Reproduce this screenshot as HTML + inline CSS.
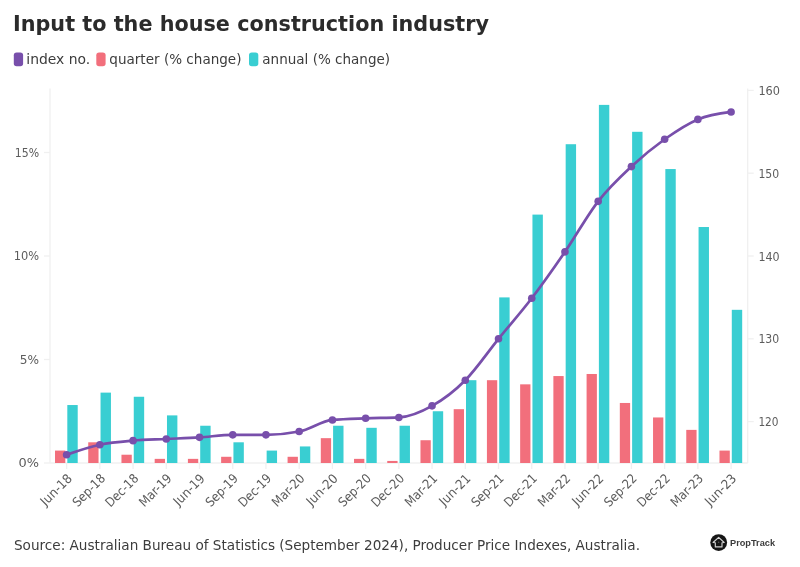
<!DOCTYPE html>
<html lang="en"><head><meta charset="utf-8"><title>Input to the house construction industry</title>
<style>html,body{margin:0;padding:0;background:#fff}body{width:800px;height:567px;overflow:hidden}svg{display:block}text{font-family:"DejaVu Sans", "Liberation Sans", sans-serif}</style></head><body>
<svg width="800" height="567" viewBox="0 0 800 567">
<rect width="800" height="567" fill="#ffffff"/>
<text x="13" y="31.4" font-size="20.7" font-weight="700" fill="#2b2b2b" textLength="476" lengthAdjust="spacingAndGlyphs">Input to the house construction industry</text>
<rect x="13.8" y="52.5" width="9.3" height="13.8" rx="2.8" fill="#784fab"/>
<text x="26.3" y="64.3" font-size="13.3" fill="#3c3c3c" textLength="64" lengthAdjust="spacingAndGlyphs">index no.</text>
<rect x="96.3" y="52.5" width="9.3" height="13.8" rx="2.8" fill="#f26f7c"/>
<text x="109.3" y="64.3" font-size="13.3" fill="#3c3c3c" textLength="132.2" lengthAdjust="spacingAndGlyphs">quarter (% change)</text>
<rect x="249" y="52.5" width="9.3" height="13.8" rx="2.8" fill="#39ced2"/>
<text x="262.3" y="64.3" font-size="13.3" fill="#3c3c3c" textLength="127.8" lengthAdjust="spacingAndGlyphs">annual (% change)</text>
<g stroke="#f0f0f0" stroke-width="1.3" fill="none">
<line x1="50" y1="88.5" x2="50" y2="463"/>
<line x1="747.7" y1="88.5" x2="747.7" y2="463"/>
<line x1="50" y1="463" x2="747.7" y2="463"/>
<line x1="44" y1="463" x2="50" y2="463"/>
<line x1="44" y1="359.5" x2="50" y2="359.5"/>
<line x1="44" y1="256" x2="50" y2="256"/>
<line x1="44" y1="152.5" x2="50" y2="152.5"/>
<line x1="747.7" y1="421.6" x2="753.7" y2="421.6"/>
<line x1="747.7" y1="338.8" x2="753.7" y2="338.8"/>
<line x1="747.7" y1="256" x2="753.7" y2="256"/>
<line x1="747.7" y1="173.2" x2="753.7" y2="173.2"/>
<line x1="747.7" y1="90.4" x2="753.7" y2="90.4"/>
<line x1="66.61" y1="463" x2="66.61" y2="469"/>
<line x1="99.84" y1="463" x2="99.84" y2="469"/>
<line x1="133.06" y1="463" x2="133.06" y2="469"/>
<line x1="166.28" y1="463" x2="166.28" y2="469"/>
<line x1="199.51" y1="463" x2="199.51" y2="469"/>
<line x1="232.73" y1="463" x2="232.73" y2="469"/>
<line x1="265.95" y1="463" x2="265.95" y2="469"/>
<line x1="299.18" y1="463" x2="299.18" y2="469"/>
<line x1="332.4" y1="463" x2="332.4" y2="469"/>
<line x1="365.63" y1="463" x2="365.63" y2="469"/>
<line x1="398.85" y1="463" x2="398.85" y2="469"/>
<line x1="432.07" y1="463" x2="432.07" y2="469"/>
<line x1="465.3" y1="463" x2="465.3" y2="469"/>
<line x1="498.52" y1="463" x2="498.52" y2="469"/>
<line x1="531.75" y1="463" x2="531.75" y2="469"/>
<line x1="564.97" y1="463" x2="564.97" y2="469"/>
<line x1="598.19" y1="463" x2="598.19" y2="469"/>
<line x1="631.42" y1="463" x2="631.42" y2="469"/>
<line x1="664.64" y1="463" x2="664.64" y2="469"/>
<line x1="697.86" y1="463" x2="697.86" y2="469"/>
<line x1="731.09" y1="463" x2="731.09" y2="469"/>
</g>
<g font-size="12.8" fill="#5c5c5c">
<text x="18.6" y="467.1" textLength="20.5" lengthAdjust="spacingAndGlyphs">0%</text>
<text x="19.8" y="363.6" textLength="19.3" lengthAdjust="spacingAndGlyphs">5%</text>
<text x="13.8" y="260.1" textLength="25.3" lengthAdjust="spacingAndGlyphs">10%</text>
<text x="14.7" y="156.6" textLength="24.4" lengthAdjust="spacingAndGlyphs">15%</text>
<text x="758.4" y="426.1" textLength="20.2" lengthAdjust="spacingAndGlyphs">120</text>
<text x="758.4" y="343.3" textLength="20.8" lengthAdjust="spacingAndGlyphs">130</text>
<text x="758.4" y="260.5" textLength="21.2" lengthAdjust="spacingAndGlyphs">140</text>
<text x="758.4" y="177.7" textLength="20.8" lengthAdjust="spacingAndGlyphs">150</text>
<text x="758.4" y="94.9" textLength="21.6" lengthAdjust="spacingAndGlyphs">160</text>
</g>
<g fill="#f26f7c">
<rect x="55.01" y="450.58" width="10.3" height="12.42"/>
<rect x="88.24" y="442.3" width="10.3" height="20.7"/>
<rect x="121.46" y="454.72" width="10.3" height="8.28"/>
<rect x="154.68" y="458.86" width="10.3" height="4.14"/>
<rect x="187.91" y="458.86" width="10.3" height="4.14"/>
<rect x="221.13" y="456.79" width="10.3" height="6.21"/>
<rect x="287.58" y="456.79" width="10.3" height="6.21"/>
<rect x="320.8" y="438.16" width="10.3" height="24.84"/>
<rect x="354.03" y="458.86" width="10.3" height="4.14"/>
<rect x="387.25" y="460.93" width="10.3" height="2.07"/>
<rect x="420.47" y="440.23" width="10.3" height="22.77"/>
<rect x="453.7" y="409.18" width="10.3" height="53.82"/>
<rect x="486.92" y="380.2" width="10.3" height="82.8"/>
<rect x="520.15" y="384.34" width="10.3" height="78.66"/>
<rect x="553.37" y="376.06" width="10.3" height="86.94"/>
<rect x="586.59" y="373.99" width="10.3" height="89.01"/>
<rect x="619.82" y="402.97" width="10.3" height="60.03"/>
<rect x="653.04" y="417.46" width="10.3" height="45.54"/>
<rect x="686.26" y="429.88" width="10.3" height="33.12"/>
<rect x="719.49" y="450.58" width="10.3" height="12.42"/>
</g>
<g fill="#39ced2">
<rect x="67.31" y="405.04" width="10.4" height="57.96"/>
<rect x="100.54" y="392.62" width="10.4" height="70.38"/>
<rect x="133.76" y="396.76" width="10.4" height="66.24"/>
<rect x="166.98" y="415.39" width="10.4" height="47.61"/>
<rect x="200.21" y="425.74" width="10.4" height="37.26"/>
<rect x="233.43" y="442.3" width="10.4" height="20.7"/>
<rect x="266.65" y="450.58" width="10.4" height="12.42"/>
<rect x="299.88" y="446.44" width="10.4" height="16.56"/>
<rect x="333.1" y="425.74" width="10.4" height="37.26"/>
<rect x="366.33" y="427.81" width="10.4" height="35.19"/>
<rect x="399.55" y="425.74" width="10.4" height="37.26"/>
<rect x="432.77" y="411.25" width="10.4" height="51.75"/>
<rect x="466" y="380.2" width="10.4" height="82.8"/>
<rect x="499.22" y="297.4" width="10.4" height="165.6"/>
<rect x="532.45" y="214.6" width="10.4" height="248.4"/>
<rect x="565.67" y="144.22" width="10.4" height="318.78"/>
<rect x="598.89" y="104.89" width="10.4" height="358.11"/>
<rect x="632.12" y="131.8" width="10.4" height="331.2"/>
<rect x="665.34" y="169.06" width="10.4" height="293.94"/>
<rect x="698.56" y="227.02" width="10.4" height="235.98"/>
<rect x="731.79" y="309.82" width="10.4" height="153.18"/>
</g>
<path d="M66.61,454.72C77.69,450.93 88.76,447.13 99.84,444.78C110.91,442.44 121.98,441.61 133.06,440.64C144.13,439.68 155.21,439.54 166.28,438.99C177.36,438.44 188.43,438.02 199.51,437.33C210.58,436.64 221.66,434.85 232.73,434.85C243.81,434.85 254.88,434.85 265.95,434.85C277.03,434.85 288.1,433.74 299.18,431.54C310.25,429.33 321.33,421.05 332.4,419.94C343.48,418.84 354.55,418.7 365.63,418.29C376.7,417.87 387.78,418.01 398.85,417.46C409.92,416.91 421,412.08 432.07,405.87C443.15,399.66 454.22,391.38 465.3,380.2C476.37,369.02 487.45,352.46 498.52,338.8C509.6,325.14 520.67,312.72 531.75,298.23C542.82,283.74 553.89,268.01 564.97,251.86C576.04,235.71 587.12,215.57 598.19,201.35C609.27,187.14 620.34,176.93 631.42,166.58C642.49,156.23 653.57,147.12 664.64,139.25C675.72,131.39 686.79,123.93 697.86,119.38C708.94,114.83 720.01,113.38 731.09,111.93" fill="none" stroke="#784fab" stroke-width="2.7" stroke-linecap="round" stroke-linejoin="round"/>
<g fill="#784fab">
<circle cx="66.61" cy="454.72" r="3.8"/>
<circle cx="99.84" cy="444.78" r="3.8"/>
<circle cx="133.06" cy="440.64" r="3.8"/>
<circle cx="166.28" cy="438.99" r="3.8"/>
<circle cx="199.51" cy="437.33" r="3.8"/>
<circle cx="232.73" cy="434.85" r="3.8"/>
<circle cx="265.95" cy="434.85" r="3.8"/>
<circle cx="299.18" cy="431.54" r="3.8"/>
<circle cx="332.4" cy="419.94" r="3.8"/>
<circle cx="365.63" cy="418.29" r="3.8"/>
<circle cx="398.85" cy="417.46" r="3.8"/>
<circle cx="432.07" cy="405.87" r="3.8"/>
<circle cx="465.3" cy="380.2" r="3.8"/>
<circle cx="498.52" cy="338.8" r="3.8"/>
<circle cx="531.75" cy="298.23" r="3.8"/>
<circle cx="564.97" cy="251.86" r="3.8"/>
<circle cx="598.19" cy="201.35" r="3.8"/>
<circle cx="631.42" cy="166.58" r="3.8"/>
<circle cx="664.64" cy="139.25" r="3.8"/>
<circle cx="697.86" cy="119.38" r="3.8"/>
<circle cx="731.09" cy="111.93" r="3.8"/>
</g>
<g font-size="12.8" fill="#5c5c5c" text-anchor="end">
<text transform="translate(72.81,479.2) rotate(-45)" textLength="38.5" lengthAdjust="spacingAndGlyphs">Jun-18</text>
<text transform="translate(106.04,479.2) rotate(-45)" textLength="40" lengthAdjust="spacingAndGlyphs">Sep-18</text>
<text transform="translate(139.26,479.2) rotate(-45)" textLength="40.5" lengthAdjust="spacingAndGlyphs">Dec-18</text>
<text transform="translate(172.48,479.2) rotate(-45)" textLength="40" lengthAdjust="spacingAndGlyphs">Mar-19</text>
<text transform="translate(205.71,479.2) rotate(-45)" textLength="38.5" lengthAdjust="spacingAndGlyphs">Jun-19</text>
<text transform="translate(238.93,479.2) rotate(-45)" textLength="40" lengthAdjust="spacingAndGlyphs">Sep-19</text>
<text transform="translate(272.15,479.2) rotate(-45)" textLength="40.5" lengthAdjust="spacingAndGlyphs">Dec-19</text>
<text transform="translate(305.38,479.2) rotate(-45)" textLength="40" lengthAdjust="spacingAndGlyphs">Mar-20</text>
<text transform="translate(338.6,479.2) rotate(-45)" textLength="38.5" lengthAdjust="spacingAndGlyphs">Jun-20</text>
<text transform="translate(371.83,479.2) rotate(-45)" textLength="40" lengthAdjust="spacingAndGlyphs">Sep-20</text>
<text transform="translate(405.05,479.2) rotate(-45)" textLength="40.5" lengthAdjust="spacingAndGlyphs">Dec-20</text>
<text transform="translate(438.27,479.2) rotate(-45)" textLength="40" lengthAdjust="spacingAndGlyphs">Mar-21</text>
<text transform="translate(471.5,479.2) rotate(-45)" textLength="38.5" lengthAdjust="spacingAndGlyphs">Jun-21</text>
<text transform="translate(504.72,479.2) rotate(-45)" textLength="40" lengthAdjust="spacingAndGlyphs">Sep-21</text>
<text transform="translate(537.95,479.2) rotate(-45)" textLength="40.5" lengthAdjust="spacingAndGlyphs">Dec-21</text>
<text transform="translate(571.17,479.2) rotate(-45)" textLength="40" lengthAdjust="spacingAndGlyphs">Mar-22</text>
<text transform="translate(604.39,479.2) rotate(-45)" textLength="38.5" lengthAdjust="spacingAndGlyphs">Jun-22</text>
<text transform="translate(637.62,479.2) rotate(-45)" textLength="40" lengthAdjust="spacingAndGlyphs">Sep-22</text>
<text transform="translate(670.84,479.2) rotate(-45)" textLength="40.5" lengthAdjust="spacingAndGlyphs">Dec-22</text>
<text transform="translate(704.06,479.2) rotate(-45)" textLength="40" lengthAdjust="spacingAndGlyphs">Mar-23</text>
<text transform="translate(737.29,479.2) rotate(-45)" textLength="38.5" lengthAdjust="spacingAndGlyphs">Jun-23</text>
</g>
<text x="14" y="549.5" font-size="13.6" fill="#3c3c3c" textLength="626" lengthAdjust="spacingAndGlyphs">Source: Australian Bureau of Statistics (September 2024), Producer Price Indexes, Australia.</text>
<circle cx="718.7" cy="542.55" r="8.4" fill="#161616"/>
<path d="M718.65 537.3 L724.2 542.5 L722 542.7 L722 546.9 L715.3 546.9 L715.3 542.7 L713.1 542.5 Z" fill="none" stroke="#d4d4d4" stroke-width="1.15" stroke-linejoin="round"/>
<circle cx="718.65" cy="542.3" r="0.8" fill="#5a5a5a"/>
<text x="730" y="546.3" font-size="9.4" font-weight="700" fill="#3c3c3c" textLength="45" lengthAdjust="spacingAndGlyphs" style="font-family:'Liberation Sans',sans-serif">PropTrack</text>
</svg></body></html>
